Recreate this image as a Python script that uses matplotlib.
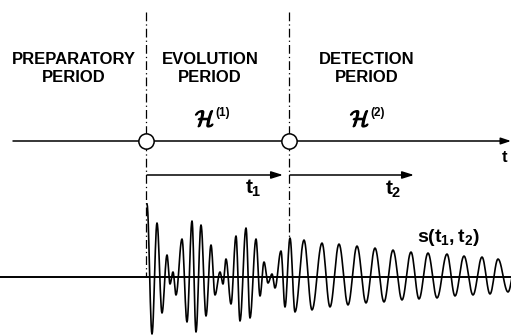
import numpy as np
import matplotlib.pyplot as plt
import matplotlib.patheffects as pe

plt.rcParams['mathtext.fontset'] = 'custom'
plt.rcParams['mathtext.rm'] = 'Liberation Sans:bold'
plt.rcParams['mathtext.it'] = 'Liberation Sans:bold'
plt.rcParams['mathtext.bf'] = 'Liberation Sans:bold'

# period boundaries along the time axis
t_start = 145.5
t_switch = 288.5
axis_y = 141
arrow_y = 175
base_y = 277

period_names = ['PREPARATORY\nPERIOD', 'EVOLUTION\nPERIOD', 'DETECTION\nPERIOD']
hamiltonian_orders = ['(1)', '(2)']

# successive extrema of the signal s(t1, t2): position and level
ext_x = [147, 152, 157, 162, 167, 170, 173, 176, 182, 187, 192, 196, 201, 206,
         211, 215, 220, 223, 226, 231, 236, 240, 246, 250, 256, 260, 264, 268,
         272, 275, 281, 285, 290, 295, 304, 312, 322, 330, 339, 348, 357, 366,
         375, 384, 393, 402, 411, 419, 428, 437, 447, 455, 464, 473, 482, 490,
         498, 508, 516]
ext_y = [204, 334, 223, 313, 255, 284, 272, 295, 239, 322, 221, 332, 225, 316,
         245, 295, 272, 284, 259, 304, 236, 321, 228, 318, 239, 296, 262, 283,
         274, 288, 251, 307, 238, 312, 240, 310, 243, 307, 244, 305, 246, 303,
         248, 302, 250, 300, 252, 299, 253, 298, 254, 296, 256, 295, 257, 294,
         259, 292, 262]

fig = plt.figure(figsize=(5.11, 3.36), dpi=100)
ax = fig.add_axes([0, 0, 1, 1])
ax.set_xlim(0, 511)
ax.set_ylim(336, 0)
ax.axis('off')

# smooth half-wave segments between neighbouring extrema
xs, ys = [], []
for i in range(len(ext_x) - 1):
    u = np.linspace(0, 1, 12, endpoint=False)
    xs.append(ext_x[i] + (ext_x[i + 1] - ext_x[i]) * u)
    ys.append(ext_y[i] + (ext_y[i + 1] - ext_y[i]) * (1 - np.cos(np.pi * u)) / 2)
xs = np.concatenate(xs)
ys = np.concatenate(ys)

ax.plot([0, 511], [base_y, base_y], color='k', lw=1.4)
ax.plot(xs, ys, color='k', lw=1.2, solid_joinstyle='round')

# dash-dot period boundaries
dash = (0, (7, 2.5, 1, 2.5))
ax.plot([t_start, t_start], [12, base_y], color='k', lw=0.9, linestyle=dash)
ax.plot([t_switch, t_switch], [12, 237], color='k', lw=0.9, linestyle=dash)

# time axis with pulse markers
ax.annotate('', xy=(511, axis_y), xytext=(13, axis_y),
            arrowprops=dict(arrowstyle='-|>,head_length=0.6,head_width=0.2',
                            lw=1.1, color='k', shrinkA=0, shrinkB=0))
for x in (t_start, t_switch):
    ax.plot(x, axis_y, 'o', ms=11, mfc='white', mec='k', mew=1.1, zorder=5)
ax.text(505, 157, r'$t$', fontsize=12, ha='center', va='center')

# t1 and t2 arrows
for x0, x1 in ((147, 283), (290, 414)):
    ax.annotate('', xy=(x1, arrow_y), xytext=(x0, arrow_y),
                arrowprops=dict(arrowstyle='-|>,head_length=0.7,head_width=0.22',
                                lw=1.1, color='k', shrinkA=0, shrinkB=0))
ax.text(253, 188, r'$t_1$', fontsize=15, ha='center', va='center')
ax.text(393, 189, r'$t_2$', fontsize=15, ha='center', va='center')

# period headings
for (x, y), name in zip([(74, 69), (210, 69), (367, 69)], period_names):
    ax.text(x, y, name, fontsize=12, fontweight='bold', family='Liberation Sans',
            ha='center', va='center', linespacing=1.25)

# script H with its order as a superscript
bold_stroke = [pe.withStroke(linewidth=0.9, foreground='k')]
for x, order in zip([205, 360], hamiltonian_orders):
    ax.text(x, 120, r'$\mathcal{H}$', fontsize=16, ha='center', va='center',
            math_fontfamily='cm', path_effects=bold_stroke)
    ax.text(x + 10, 113, order, fontsize=8.5, fontweight='bold',
            family='Liberation Sans', ha='left', va='center')

ax.text(448, 238, r'$s(t_1,t_2)$', fontsize=14, ha='center', va='center')

fig.savefig('out.png', dpi=100)
